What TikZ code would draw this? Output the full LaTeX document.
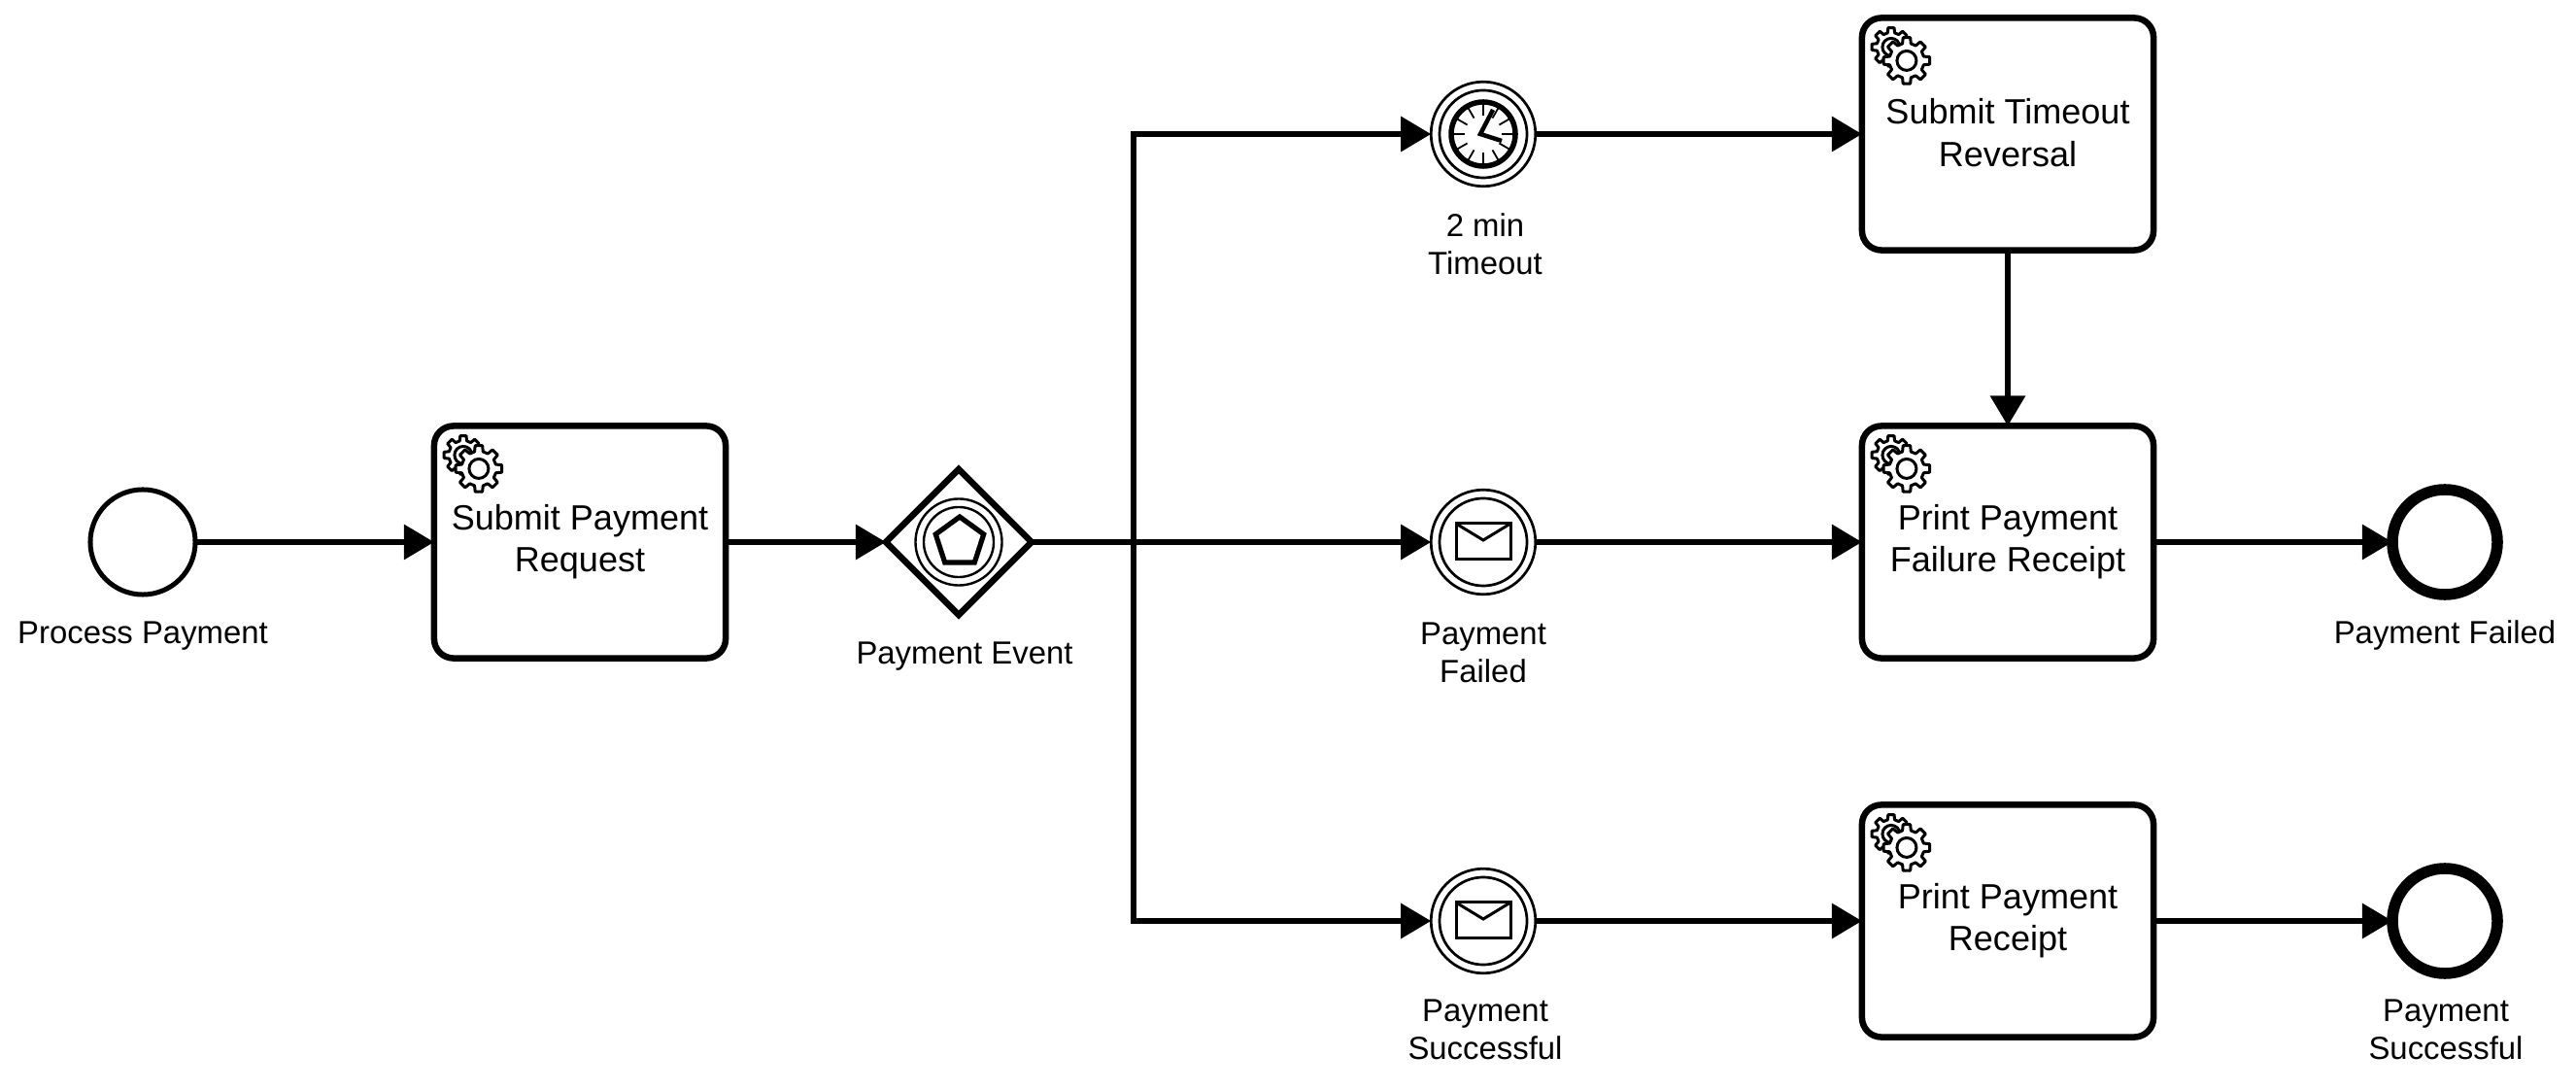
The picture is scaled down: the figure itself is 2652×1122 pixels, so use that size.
\documentclass[tikz,border=0pt]{standalone}
\usepackage{fontspec}
\setmainfont{Liberation Sans}
\usetikzlibrary{arrows.meta,shapes.geometric}

\newcommand{\cogwheel}[3]{%
  \draw[iconline] (#1) ++(-14:#2) \foreach \a in {0,45,...,315} {
    -- ([shift={(#1)}]\a-14:#2) -- ([shift={(#1)}]\a-9:#2+#3) -- ([shift={(#1)}]\a+9:#2+#3) -- ([shift={(#1)}]\a+14:#2)
  } -- cycle;
}

\tikzset{
  flow/.style={line width=.062cm, -{Triangle[length=.31cm,width=.35cm]}},
  task/.style={draw, line width=.065cm, rounded corners=.2cm, minimum width=3cm, minimum height=2.39cm,
    align=center, inner sep=0pt, outer sep=0pt, font=\fontsize{10.25}{12.3}\selectfont,
    execute at end node=\rule[-.9pt]{0pt}{0pt}},
  startevent/.style={draw, circle, line width=.05cm, minimum size=1.08cm, inner sep=0pt, outer sep=0pt},
  endevent/.style={draw, circle, line width=.115cm, minimum size=1.08cm, inner sep=0pt, outer sep=0pt},
  catchevent/.style={draw, circle, line width=.027cm, minimum size=1.075cm, inner sep=0pt, outer sep=0pt},
  innerring/.style={draw, circle, line width=.027cm, minimum size=.9cm, inner sep=0pt},
  gateway/.style={draw, diamond, aspect=1, line width=.065cm, minimum size=1.5cm, inner sep=0pt, outer sep=0pt},
  eventlabel/.style={align=center, inner sep=0pt, font=\fontsize{9.35}{11.1}\selectfont},
  iconline/.style={line width=.03cm, fill=white, line join=round},
  envelope/.style={draw, line width=.03cm, minimum width=.56cm, minimum height=.36cm, inner sep=0pt, outer sep=0pt},
  gears/.pic={
    \cogwheel{0,0}{15}{5}
    \draw[iconline] (0,0) circle (9);
    \cogwheel{16,14}{18}{6}
    \draw[iconline] (16,14) circle (10);
  }
}

\begin{document}
\begin{tikzpicture}[x=.01cm,y=-.01cm]
  \useasboundingbox (0,0) rectangle (2652,1122);

  %--- Start and first task ---
  \node[startevent] (start) at (147,558) {};
  \node[eventlabel] (startlabel) at (147,655) {Process Payment};
  \node[task] (submit) at (597,558) {Submit Payment\\Request};
  \pic at ([shift={(30,30)}]submit.north west) {gears};

  %--- Event gateway ---
  \node[gateway] (gate) at (987,558) {};
  \node[draw, circle, line width=.024cm, minimum size=.89cm, inner sep=0pt] (gateouter) at (gate) {};
  \node[draw, circle, line width=.024cm, minimum size=.72cm, inner sep=0pt] (gateinner) at (gate) {};
  \node[draw, regular polygon, regular polygon sides=5, line width=.052cm, minimum size=.52cm, inner sep=0pt] (gateicon) at (988,558) {};
  \node[eventlabel] (gatelabel) at (993,676) {Payment Event};
  \coordinate (split) at (1167,558);

  %--- Timer event ---
  \node[catchevent] (timer) at (1527,138) {};
  \node[innerring] (timerring) at (timer) {};
  \node[draw, circle, line width=.055cm, minimum size=.66cm, inner sep=0pt] (clock) at (timer) {};
  \foreach \a in {0,30,...,330} {
    \draw[line width=.018cm] ([shift={(timer)}]\a:19) -- ([shift={(timer)}]\a:31);
  }
  \draw[line width=.045cm, line join=miter] ([shift={(10,-25)}]timer.center) -- ([shift={(-3,0)}]timer.center) -- ([shift={(19,7)}]timer.center);
  \node[eventlabel] (timerlabel) at (1529,251) {2 min\\Timeout};

  %--- Message events ---
  \node[catchevent] (failed) at (1527,558) {};
  \node[innerring] (failedring) at (failed) {};
  \node[envelope] (failedmail) at (1527,557) {};
  \draw[line width=.03cm] (failedmail.north west) -- ([yshift=-.17cm]failedmail.north) -- (failedmail.north east);
  \node[eventlabel] (failedlabel) at (1527,672) {Payment\\Failed};

  \node[catchevent] (success) at (1527,948) {};
  \node[innerring] (successring) at (success) {};
  \node[envelope] (successmail) at (1527,947) {};
  \draw[line width=.03cm] (successmail.north west) -- ([yshift=-.17cm]successmail.north) -- (successmail.north east);
  \node[eventlabel] (successlabel) at (1529,1060) {Payment\\Successful};

  %--- Tasks on the right ---
  \node[task] (reversal) at (2067,138) {Submit Timeout\\Reversal};
  \pic at ([shift={(30,30)}]reversal.north west) {gears};
  \node[task] (failreceipt) at (2067,558) {Print Payment\\Failure Receipt};
  \pic at ([shift={(30,30)}]failreceipt.north west) {gears};
  \node[task] (receipt) at (2067,948) {Print Payment\\Receipt};
  \pic at ([shift={(30,30)}]receipt.north west) {gears};

  %--- End events ---
  \node[endevent] (endfail) at (2517,558) {};
  \node[eventlabel] (endfaillabel) at (2517,654) {Payment Failed};
  \node[endevent] (endok) at (2517,948) {};
  \node[eventlabel] (endoklabel) at (2518,1060) {Payment\\Successful};

  %--- Sequence flows ---
  \draw[flow] (start) -- (submit);
  \draw[flow] (submit) -- (gate);
  \draw[flow] (gate) -- (failed);
  \draw[flow] (split) |- (timer);
  \draw[flow] (split) |- (success);
  \draw[flow] (timer) -- (reversal);
  \draw[flow] (failed) -- (failreceipt);
  \draw[flow] (success) -- (receipt);
  \draw[flow] (reversal) -- (failreceipt);
  \draw[flow] (failreceipt) -- (endfail);
  \draw[flow] (receipt) -- (endok);

\end{tikzpicture}
\end{document}
